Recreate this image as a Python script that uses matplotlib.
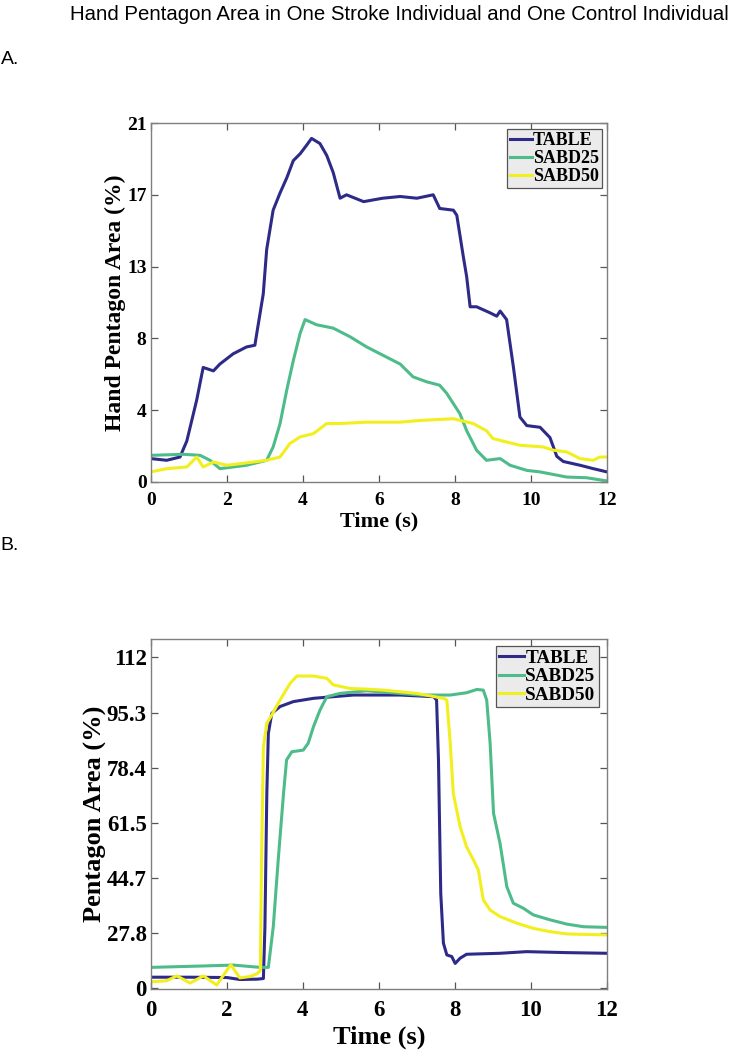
import numpy as np
import matplotlib
matplotlib.use("Agg")
import matplotlib.pyplot as plt

# ---------------- Data: Panel A (stroke individual) ----------------
a_table_t = [0, 0.42, 0.77, 0.95, 1.21, 1.38, 1.65, 1.82, 2.17, 2.52, 2.74, 2.79, 2.96, 3.05, 3.22,
             3.40, 3.58, 3.75, 3.93, 4.10, 4.23, 4.45, 4.63, 4.80, 4.98, 5.15, 5.60, 6.10, 6.56,
             7.00, 7.43, 7.60, 7.96, 8.05, 8.22, 8.31, 8.40, 8.57, 8.92, 9.10, 9.19, 9.36, 9.54,
             9.71, 9.89, 10.24, 10.50, 10.68, 10.85, 11.29, 11.64, 12.0]
a_table_v = [1.37, 1.27, 1.46, 2.4, 4.8, 6.7, 6.5, 6.9, 7.5, 7.9, 8.0, 8.7, 11.0, 13.6, 15.9,
             16.9, 17.8, 18.8, 19.2, 19.7, 20.1, 19.8, 19.1, 18.1, 16.6, 16.8, 16.4, 16.6, 16.7,
             16.6, 16.8, 16.0, 15.9, 15.6, 13.2, 12.0, 10.25, 10.25, 9.9, 9.7, 10.0, 9.5, 6.7,
             3.8, 3.3, 3.2, 2.6, 1.5, 1.2, 0.98, 0.78, 0.59]

a_sabd25_t = [0, 0.86, 1.30, 1.56, 1.82, 2.17, 2.52, 2.87, 3.05, 3.22, 3.40, 3.58, 3.75, 3.93,
              4.06, 4.36, 4.80, 5.24, 5.68, 6.12, 6.56, 6.90, 7.26, 7.60, 7.78, 8.13, 8.31,
              8.57, 8.83, 9.19, 9.45, 9.89, 10.24, 10.94, 11.46, 12.0]
a_sabd25_v = [1.56, 1.62, 1.56, 1.27, 0.78, 0.88, 0.98, 1.17, 1.27, 2.05, 3.4, 5.4, 7.1, 8.7,
              9.5, 9.2, 9.0, 8.5, 7.9, 7.4, 6.9, 6.15, 5.86, 5.66, 5.2, 4.0, 3.0,
              1.86, 1.27, 1.37, 0.98, 0.68, 0.59, 0.29, 0.25, 0.06]

a_sabd50_t = [0, 0.42, 0.95, 1.21, 1.38, 1.65, 2.0, 2.35, 2.70, 3.05, 3.40, 3.66, 3.93, 4.28,
              4.63, 4.98, 5.68, 6.56, 7.08, 7.96, 8.48, 8.83, 9.0, 9.36, 9.71, 10.32, 10.59,
              10.94, 11.29, 11.64, 11.81, 12.0]
a_sabd50_v = [0.59, 0.78, 0.88, 1.46, 0.88, 1.17, 0.98, 1.07, 1.17, 1.27, 1.46, 2.25, 2.64, 2.83,
              3.42, 3.42, 3.5, 3.5, 3.6, 3.7, 3.42, 3.0, 2.54, 2.34, 2.15, 2.05, 1.86,
              1.76, 1.37, 1.27, 1.46, 1.46]

a_ytick_labels = ["0", "4", "8", "13", "17", "21"]

# ---------------- Data: Panel B (control individual) ----------------
b_table_t = [0, 1.0, 2.0, 2.34, 2.80, 2.96, 3.00, 3.05, 3.09, 3.18, 3.40, 3.75, 4.28, 4.80, 5.33,
             5.68, 6.56, 7.44, 7.52, 7.57, 7.63, 7.70, 7.79, 7.92, 8.01, 8.14, 8.31, 9.19,
             9.89, 10.95, 12.0]
b_table_v = [14.4, 14.4, 14.3, 13.7, 13.8, 14.0, 29.8, 70.5, 88.8, 94.9, 97.0, 98.5, 99.5, 100.0, 100.5,
             100.5, 100.5, 100.0, 99.0, 80.7, 40.0, 24.8, 21.2, 20.7, 18.6, 20.2, 21.4, 21.7,
             22.2, 21.9, 21.7]

b_sabd25_t = [0, 1.29, 2.17, 2.87, 3.09, 3.22, 3.35, 3.49, 3.57, 3.71, 4.01, 4.14, 4.28, 4.45,
              4.63, 4.98, 5.68, 6.56, 7.09, 7.88, 8.31, 8.58, 8.75, 8.84, 8.93, 9.02, 9.19,
              9.37, 9.54, 9.81, 10.07, 10.51, 10.95, 11.39, 12.0]
b_sabd25_v = [17.4, 17.8, 18.1, 17.4, 17.4, 29.8, 50.2, 70.5, 80.7, 83.2, 83.7, 85.8, 90.9, 95.9,
              100.0, 101.0, 101.8, 101.0, 100.5, 100.5, 101.2, 102.2, 102.0, 99.0, 85.8, 64.4, 55.3,
              42.0, 37.0, 35.4, 33.4, 31.9, 30.6, 29.8, 29.6]

b_sabd50_t = [0, 0.41, 0.68, 1.03, 1.38, 1.73, 2.10, 2.34, 2.61, 2.80, 2.88, 2.91, 2.96, 3.05,
              3.18, 3.40, 3.66, 3.84, 4.28, 4.63, 4.80, 5.24, 5.68, 6.12, 7.00, 7.70, 7.79,
              7.88, 7.96, 8.14, 8.31, 8.49, 8.62, 8.75, 8.93, 9.19, 9.63, 10.07, 10.51, 10.95, 12.0]
b_sabd50_v = [13.0, 13.3, 14.8, 12.6, 14.8, 12.0, 18.2, 14.2, 14.6, 15.5, 16.5, 50.2, 84.7, 91.9,
              94.4, 99.0, 104.0, 106.3, 106.3, 105.6, 103.6, 102.5, 102.3, 102.0, 101.0, 99.5, 99.0,
              85.8, 70.5, 60.3, 54.2, 50.2, 47.1, 38.0, 34.9, 32.9, 30.9, 29.3, 28.3, 27.6, 27.3]

b_ytick_labels = ["0", "27.8", "44.7", "61.5", "78.4", "95.3", "112"]

x_ticks = [0, 2, 4, 6, 8, 10, 12]
series_names = ["TABLE", "SABD25", "SABD50"]
colors = ["#2e2a87", "#4dbc8a", "#f2ef1f"]

# ---------------- Figure ----------------
fig = plt.figure(figsize=(7.29, 10.5), dpi=100)
serif = ["Liberation Serif", "DejaVu Serif"]
sans = ["Liberation Sans", "DejaVu Sans"]

fig.text(399 / 729, 1 - 20 / 1050, "Hand Pentagon Area in One Stroke Individual and One Control Individual",
         ha="center", va="baseline", fontsize=14.7, family=sans)
fig.text(0.001, 1 - 64 / 1050, "A.", ha="left", va="baseline", fontsize=14, family=sans)
fig.text(0.001, 1 - 550 / 1050, "B.", ha="left", va="baseline", fontsize=14, family=sans)

axA = fig.add_axes([150.7 / 729, 1 - 482 / 1050, (607 - 150.7) / 729, (482 - 123) / 1050])
axB = fig.add_axes([151 / 729, 1 - 989 / 1050, (606.7 - 151) / 729, (989 - 639) / 1050])

def style_axes(ax, fs, xpad, ypad):
    for s in ax.spines.values():
        s.set_color("#7f7f7f")
        s.set_linewidth(1.0)
    ax.tick_params(direction="in", top=True, right=True, length=5, width=0.9, color="#555555",
                   labelsize=fs)
    ax.tick_params(axis="x", pad=xpad)
    ax.tick_params(axis="y", pad=ypad)
    for lab in ax.get_xticklabels() + ax.get_yticklabels():
        lab.set_fontfamily(serif)
        lab.set_fontweight("bold")

def make_legend(ax, anchor, fs, hl):
    leg = ax.legend(loc="upper right", bbox_to_anchor=anchor,
                    prop={"family": serif, "weight": "bold", "size": fs},
                    handlelength=hl, handletextpad=0.05, borderpad=0.18, labelspacing=0.05,
                    borderaxespad=0, fancybox=False, framealpha=1, facecolor="#ebebeb",
                    edgecolor="#555555")
    leg.get_frame().set_linewidth(0.9)
    return leg

# Panel A
for t, v, name, c in zip([a_table_t, a_sabd25_t, a_sabd50_t], [a_table_v, a_sabd25_v, a_sabd50_v],
                         series_names, colors):
    axA.plot(t, v, color=c, lw=2.2, label=name)
axA.set_xlim(0, 12)
axA.set_ylim(0, 21)
axA.set_xticks(x_ticks)
axA.set_yticks(np.linspace(0, 21, len(a_ytick_labels)))
axA.set_yticklabels(a_ytick_labels)
style_axes(axA, 14, 7, 3)
axA.set_xlabel("Time (s)", fontsize=16, fontweight="bold", family=serif, labelpad=2)
axA.set_ylabel("Hand Pentagon Area (%)", fontsize=17, fontweight="bold", family=serif, labelpad=1)
make_legend(axA, (0.989, 0.983), 13, 1.2)

# Panel B
for t, v, name, c in zip([b_table_t, b_sabd25_t, b_sabd50_t], [b_table_v, b_sabd25_v, b_sabd50_v],
                         series_names, colors):
    axB.plot(t, v, color=c, lw=2.2, label=name)
axB.set_xlim(0, 12)
step = (112 - 27.8) / 5
axB.set_ylim(10.8, 117.6)
axB.set_yticks(np.linspace(112 - 6 * step, 112, len(b_ytick_labels)))
axB.set_yticklabels(b_ytick_labels)
axB.set_xticks(x_ticks)
style_axes(axB, 16.5, 8, 3)
axB.set_xlabel("Time (s)", fontsize=19, fontweight="bold", family=serif, labelpad=3)
axB.set_ylabel("Pentagon Area (%)", fontsize=19, fontweight="bold", family=serif, labelpad=0)
make_legend(axB, (0.983, 0.98), 13.8, 1.3)

fig.savefig("out.png", dpi=100)
